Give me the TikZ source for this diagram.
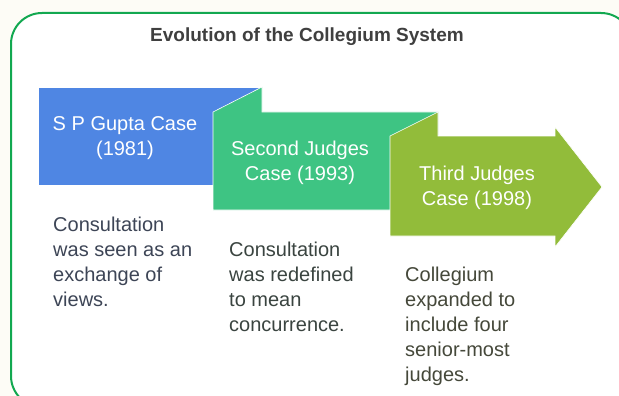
\documentclass[tikz,border=0pt]{standalone}
\usepackage{fontspec}
\setmainfont{Liberation Sans}
\definecolor{paper}{HTML}{FDFCF6}
\definecolor{frameGreen}{HTML}{12A850}
\definecolor{titleGray}{HTML}{3F3F3F}
\definecolor{caseBlue}{HTML}{4F86E3}
\definecolor{caseGreen}{HTML}{3EC483}
\definecolor{caseLime}{HTML}{92BC3A}
\definecolor{descBlue}{HTML}{3D4556}
\definecolor{descGreen}{HTML}{3A4440}
\definecolor{descLime}{HTML}{45483A}

\begin{document}
\begin{tikzpicture}[x=1pt,y=-1pt,
  band/.style={draw=white,line width=0.6pt,line join=miter},
  casetext/.style={text=white,align=center,anchor=base,inner sep=0pt,
    font=\fontsize{20}{25}\selectfont},
  desc/.style={align=left,anchor=base west,inner sep=0pt,
    font=\fontsize{20}{25}\selectfont}]
\useasboundingbox (0,0) rectangle (619,396);
\fill[paper] (0,0) rectangle (619,396);
\draw[frameGreen,line width=2pt,fill=white,rounded corners=31pt] (11,13) rectangle (632,407);
\node[anchor=base,text=titleGray,font=\bfseries\fontsize{19}{23}\selectfont] (title) at (307,42)
  {Evolution of the Collegium System};
% the three folded bands
\fill[caseBlue,band] (38,87) rectangle (262,185);
\fill[caseGreen,band] (213,112) -- (262,87) -- (262,112) -- (438,112) -- (438,210) -- (213,210) -- cycle;
\fill[caseLime,band] (390,136) -- (438,112) -- (438,136) -- (555,136) -- (555,127)
  -- (602,187) -- (555,247) -- (555,236) -- (390,236) -- cycle;
% base of a two-line node sits on its last line
\node[casetext] (gupta) at (125,155) {S P Gupta Case\\(1981)};
\node[casetext] (second) at (300,180) {Second Judges\\Case (1993)};
\node[casetext] (third) at (477,205) {Third Judges\\Case (1998)};
% descriptions
\node[desc,text=descBlue] (guptadesc) at (53,306) {Consultation\\was seen as an\\exchange of\\views.};
\node[desc,text=descGreen] (seconddesc) at (229,331) {Consultation\\was redefined\\to mean\\concurrence.};
\node[desc,text=descLime] (thirddesc) at (405,381) {Collegium\\expanded to\\include four\\senior-most\\judges.};
\end{tikzpicture}
\end{document}
